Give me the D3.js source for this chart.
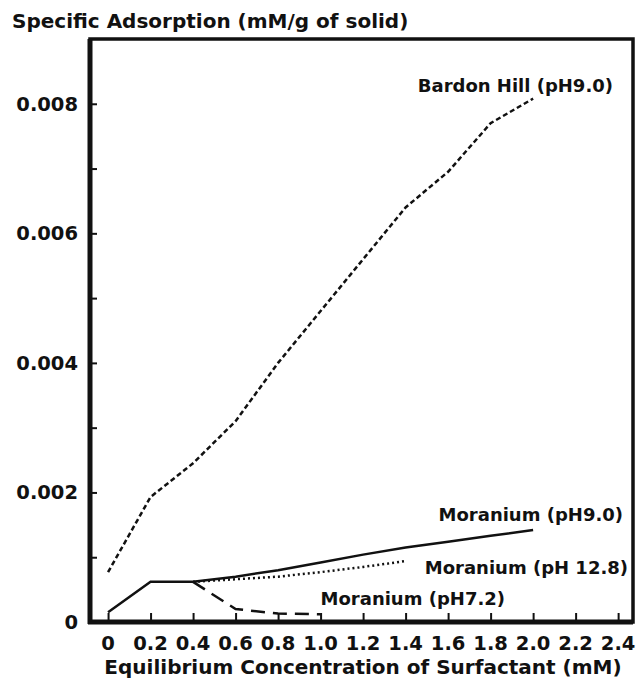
<!DOCTYPE html>
<html>
<head>
<meta charset="utf-8">
<script src="https://cdn.jsdelivr.net/npm/d3@7"></script>
<style>
  body { margin: 0; background: #fff; }
  svg text { font-family: "DejaVu Sans", sans-serif; font-weight: bold; fill: #111; }
</style>
</head>
<body>
<svg id="chart" width="639" height="682"></svg>
<script>
// values (x in mM, y in mM/g)
var bardonX = [0, 0.2, 0.4, 0.6, 0.8, 1.0, 1.2, 1.4, 1.6, 1.8, 2.0];
var bardonY = [0.00077, 0.00193, 0.00245, 0.0031, 0.004, 0.0048, 0.0056, 0.0064, 0.00695, 0.0077, 0.00808];

var mor90X = [0, 0.2, 0.4, 0.6, 0.8, 1.0, 1.2, 1.4, 1.6, 1.8, 2.0];
var mor90Y = [0.00015, 0.00062, 0.00062, 0.0007, 0.0008, 0.00092, 0.00104, 0.00115, 0.00124, 0.00133, 0.00142];

var mor128X = [0.4, 0.6, 0.8, 1.0, 1.2, 1.4];
var mor128Y = [0.00062, 0.00066, 0.0007, 0.00077, 0.00085, 0.00094];

var mor72X = [0.4, 0.6, 0.8, 1.0];
var mor72Y = [0.00062, 0.0002, 0.00013, 0.00012];

var xTicks = [0, 0.2, 0.4, 0.6, 0.8, 1.0, 1.2, 1.4, 1.6, 1.8, 2.0, 2.2, 2.4];
var yTickLabels = [0, 0.002, 0.004, 0.006, 0.008];
var yMinor = [0.001, 0.003, 0.005, 0.007];

var svg = d3.select("#chart");

var x = d3.scaleLinear().domain([-0.085, 2.47]).range([90, 633]);
var y = d3.scaleLinear().domain([0, 0.009]).range([622, 39]);

function pts(xs, ys) {
  return xs.map(function(d, i) { return [d, ys[i]]; });
}
var line = d3.line()
  .x(function(d) { return x(d[0]); })
  .y(function(d) { return y(d[1]); });

// frame
svg.append("rect")
  .attr("x", x.range()[0]).attr("y", y.range()[1])
  .attr("width", x.range()[1] - x.range()[0])
  .attr("height", y.range()[0] - y.range()[1])
  .attr("fill", "none").attr("stroke", "#111").attr("stroke-width", 3.5);
svg.append("line")
  .attr("x1", x.range()[0]).attr("x2", x.range()[0])
  .attr("y1", y.range()[1]).attr("y2", y.range()[0] + 2)
  .attr("stroke", "#111").attr("stroke-width", 5);
svg.append("line")
  .attr("x1", x.range()[0] - 2).attr("x2", x.range()[1])
  .attr("y1", y.range()[0]).attr("y2", y.range()[0])
  .attr("stroke", "#111").attr("stroke-width", 5);

// y axis ticks (inward)
var yAxis = d3.axisRight(y)
  .tickValues(yTickLabels.concat(yMinor))
  .tickSize(7)
  .tickFormat("");
var gy = svg.append("g").attr("transform", "translate(" + x.range()[0] + ",0)").call(yAxis);
gy.select(".domain").remove();
gy.selectAll(".tick line").attr("stroke", "#111").attr("stroke-width", 2);

svg.selectAll(".ylab")
  .data(yTickLabels)
  .enter().append("text")
  .attr("class", "ylab")
  .attr("x", 78)
  .attr("y", function(d) { return y(d) + 7; })
  .attr("text-anchor", "end")
  .attr("font-size", 19.5)
  .text(function(d) { return d === 0 ? "0" : d3.format(".3f")(d); });

// x axis ticks (inward)
var xAxis = d3.axisTop(x)
  .tickValues(xTicks)
  .tickSize(9)
  .tickFormat("");
var gx = svg.append("g").attr("transform", "translate(0," + y.range()[0] + ")").call(xAxis);
gx.select(".domain").remove();
gx.selectAll(".tick line").attr("stroke", "#111").attr("stroke-width", 2);

svg.selectAll(".xlab")
  .data(xTicks)
  .enter().append("text")
  .attr("class", "xlab")
  .attr("x", function(d) { return x(d); })
  .attr("y", 650)
  .attr("text-anchor", "middle")
  .attr("font-size", 19.5)
  .text(function(d) { return d === 0 ? "0" : d3.format(".1f")(d); });

// titles
svg.append("text").attr("x", 12).attr("y", 28).attr("font-size", 20)
  .text("Specific Adsorption (mM/g of solid)");
svg.append("text").attr("x", 363).attr("y", 674).attr("font-size", 20)
  .attr("text-anchor", "middle")
  .text("Equilibrium Concentration of Surfactant (mM)");

// series
svg.append("path").attr("d", line(pts(bardonX, bardonY)))
  .attr("fill", "none").attr("stroke", "#111").attr("stroke-width", 2.5)
  .attr("stroke-dasharray", "5,3");
svg.append("path").attr("d", line(pts(mor90X, mor90Y)))
  .attr("fill", "none").attr("stroke", "#111").attr("stroke-width", 2.5);
svg.append("path").attr("d", line(pts(mor128X, mor128Y)))
  .attr("fill", "none").attr("stroke", "#111").attr("stroke-width", 2.5)
  .attr("stroke-dasharray", "2,3");
svg.append("path").attr("d", line(pts(mor72X, mor72Y)))
  .attr("fill", "none").attr("stroke", "#111").attr("stroke-width", 2.5)
  .attr("stroke-dasharray", "14,8");

// series labels
var labels = [
  {t: "Bardon Hill (pH9.0)", x: 613, y: 92},
  {t: "Moranium (pH9.0)", x: 623, y: 521},
  {t: "Moranium (pH 12.8)", x: 628, y: 574},
  {t: "Moranium (pH7.2)", x: 505, y: 605}
];
svg.selectAll(".slab")
  .data(labels)
  .enter().append("text")
  .attr("class", "slab")
  .attr("x", function(d) { return d.x; })
  .attr("y", function(d) { return d.y; })
  .attr("text-anchor", "end")
  .attr("font-size", 18)
  .text(function(d) { return d.t; });
</script>
</body>
</html>
